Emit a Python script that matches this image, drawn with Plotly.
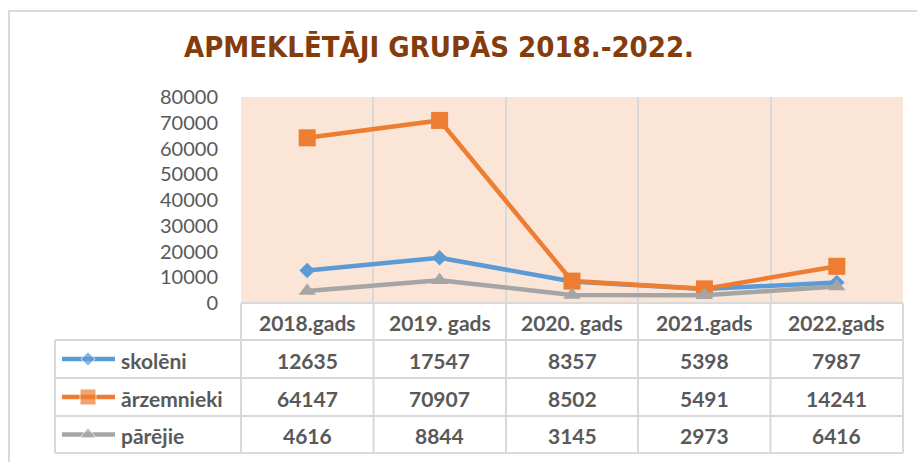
import plotly.graph_objects as go

# ---- data ----
title_text = "APMEKLĒTĀJI GRUPĀS 2018.-2022."
categories = ["2018.gads", "2019. gads", "2020. gads", "2021.gads", "2022.gads"]
skoleni = [12635, 17547, 8357, 5398, 7987]
arzemnieki = [64147, 70907, 8502, 5491, 14241]
parejie = [4616, 8844, 3145, 2973, 6416]
series_names = ["skolēni", "ārzemnieki", "pārējie"]
y_ticks = [0, 10000, 20000, 30000, 40000, 50000, 60000, 70000, 80000]

W, H = 917, 462
colors = ["#5B9BD5", "#ED7D31", "#A5A5A5"]
symbols = ["diamond", "square", "triangle-up"]
msizes = [12, 17, 15]
grid_col = "#D9D9D9"
text_col = "#595959"
FONT = "Lato"

def px(x):
    return x / W

def py(y):
    return 1 - y / H

# layout geometry (pixels)
PL, PR, PT, PB = 241, 903, 97, 303
row_lines = [340, 378, 416, 453]
tbl_left = 55
col_edges = [241, 373.5, 506, 638, 770.5, 903]

fig = go.Figure()
series = [skoleni, arzemnieki, parejie]
xidx = list(range(len(categories)))
for name, vals, c, s, ms in zip(series_names, series, colors, symbols, msizes):
    fig.add_trace(go.Scatter(
        x=xidx, y=vals, name=name, mode="lines+markers",
        line=dict(color=c, width=4.5),
        marker=dict(symbol=s, size=ms, color=c),
        showlegend=False, cliponaxis=False,
    ))

# legend glyphs in table (pixel axis spanning the whole figure)
for i, (c, s, ms) in enumerate(zip(colors, symbols, msizes)):
    yc = (row_lines[i] + row_lines[i + 1]) / 2
    fig.add_trace(go.Scatter(
        x=[62, 88, 115], y=[yc, yc, yc], mode="lines+markers",
        line=dict(color=c, width=4.5),
        marker=dict(symbol=s, size=[0, ms - 1, 0], color=c),
        xaxis="x2", yaxis="y2", showlegend=False, hoverinfo="skip",
    ))

shapes = []
# plot area background
shapes.append(dict(type="rect", xref="paper", yref="paper", x0=px(PL), x1=px(PR), y0=py(PB), y1=py(PT),
                   fillcolor="#FBE5D6", line=dict(width=0), layer="below"))
# outer frame
shapes.append(dict(type="line", xref="paper", yref="paper", x0=px(8), x1=px(W + 5), y0=py(11), y1=py(11),
                   line=dict(color=grid_col, width=2)))
shapes.append(dict(type="line", xref="paper", yref="paper", x0=px(9), x1=px(9), y0=py(11), y1=py(H + 5),
                   line=dict(color=grid_col, width=2)))
# header row vertical lines
for xe in col_edges:
    shapes.append(dict(type="line", xref="paper", yref="paper", x0=px(xe), x1=px(xe), y0=py(PB), y1=py(row_lines[0]),
                       line=dict(color=grid_col, width=2)))
# table horizontal lines
for yl in row_lines:
    shapes.append(dict(type="line", xref="paper", yref="paper", x0=px(tbl_left), x1=px(PR), y0=py(yl), y1=py(yl),
                       line=dict(color=grid_col, width=2)))
shapes.append(dict(type="line", xref="paper", yref="paper", x0=px(PL), x1=px(PR), y0=py(PB), y1=py(PB),
                   line=dict(color=grid_col, width=2)))
# table vertical lines
for xe in [tbl_left] + col_edges:
    shapes.append(dict(type="line", xref="paper", yref="paper", x0=px(xe), x1=px(xe), y0=py(row_lines[0]), y1=py(row_lines[-1]),
                       line=dict(color=grid_col, width=2)))

annotations = []
annotations.append(dict(
    text="<b>" + title_text + "</b>", x=px(439), y=py(47), xref="paper", yref="paper",
    showarrow=False, xanchor="center", yanchor="middle",
    font=dict(family="DejaVu Sans Condensed", size=29, color="#843C0C"),
))
# header labels
for i, cat in enumerate(categories):
    annotations.append(dict(text="<b>" + cat + "</b>", x=i, xref="x", y=py((PB + row_lines[0]) / 2 + 1), yref="paper",
                            showarrow=False, xanchor="center", yanchor="middle",
                            font=dict(family=FONT, size=21, color=text_col)))
# rows
for r, (name, vals) in enumerate(zip(series_names, series)):
    yc = (row_lines[r] + row_lines[r + 1]) / 2 + 1
    annotations.append(dict(text="<b>" + name + "</b>", x=px(119), y=py(yc), xref="paper", yref="paper",
                            showarrow=False, xanchor="left", yanchor="middle",
                            font=dict(family=FONT, size=21, color=text_col)))
    for i, v in enumerate(vals):
        annotations.append(dict(text="<b>" + str(v) + "</b>", x=i, xref="x", y=py(yc), yref="paper",
                                showarrow=False, xanchor="center", yanchor="middle",
                                font=dict(family=FONT, size=21, color=text_col)))

fig.update_layout(
    width=W, height=H,
    margin=dict(l=0, r=0, t=0, b=0, autoexpand=False),
    paper_bgcolor="white",
    plot_bgcolor="rgba(0,0,0,0)",
    xaxis=dict(domain=[px(PL), px(PR)], range=[-0.5, len(categories) - 0.5],
               tickvals=[i - 0.5 for i in range(len(categories) + 1)],
               showticklabels=False, showgrid=True, gridcolor=grid_col, gridwidth=2,
               zeroline=False, showline=False, ticks=""),
    yaxis=dict(domain=[py(PB), py(PT)], range=[0, 80000], tickvals=y_ticks,
               ticktext=[str(t) for t in y_ticks], showgrid=False, zeroline=False,
               showline=False, ticks="", ticklabelstandoff=22,
               tickfont=dict(family=FONT, size=20, color=text_col)),
    xaxis2=dict(domain=[0, 1], range=[0, W], visible=False, anchor="y2"),
    yaxis2=dict(domain=[0, 1], range=[H, 0], visible=False, anchor="x2"),
    shapes=shapes,
    annotations=annotations,
)

fig.write_html("out.html", config={"displayModeBar": False},
               post_script="document.body.style.margin='0';document.body.style.overflow='hidden';")
